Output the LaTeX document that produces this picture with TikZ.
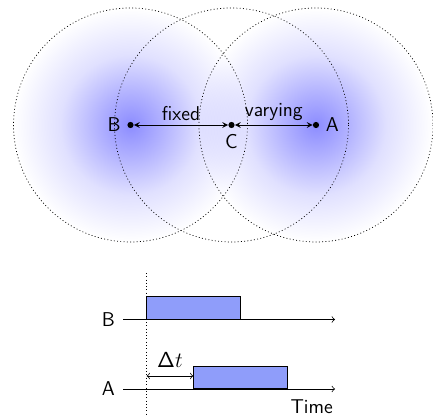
\documentclass[tikz,border=0pt]{standalone}
\usetikzlibrary{arrows}

\definecolor{slotblue}{RGB}{143,157,250}
\pgfdeclareradialshading{glow}{\pgfpoint{0bp}{0bp}}{color(0bp)=(blue!45); color(7bp)=(blue!30); color(15bp)=(blue!12); color(25bp)=(white); color(50bp)=(white)}

\begin{document}
\begin{tikzpicture}[
  x=0.55pt, y=-0.55pt,
  >=stealth,
  every node/.style={font=\sffamily\fontsize{11}{13}\selectfont},
  reach/.style={dash pattern=on 0.5pt off 1.3pt},
  dot/.style={circle, fill, inner sep=1.2pt},
  slot/.style={draw, fill=slotblue, line width=0.6pt},
  axis/.style={->, >=to}]
\useasboundingbox (0,0) rectangle (433,418);

% coverage of the two stations
\shade[shading=glow, blend mode=multiply] (130.5,125) circle (117);
\shade[shading=glow, blend mode=multiply] (316,125) circle (117);
\draw[reach] (130.5,125) circle (117);
\draw[reach] (231.5,125) circle (117);
\draw[reach] (316,125) circle (117);

\node[dot, label=left:B]  (B) at (130.5,125) {};
\node[dot, label=below:C] (C) at (231.5,125) {};
\node[dot, label=right:A] (A) at (316,125) {};
\draw[<->] (B) -- node[above=-1pt] {fixed} (C);
\draw[<->] (C) -- node[above=-1pt] {varying} (A);

% timing
\coordinate (start) at (146.7,273);
\coordinate (end) at (146.7,414);
\draw[reach] (start) -- (end);

\coordinate (Bt0) at (123,319.5);
\coordinate (Bt1) at (335,319.5);
\coordinate (At0) at (123,389);
\coordinate (At1) at (335,389);
\node[left=1pt] (Blabel) at (Bt0) {B};
\node[left=1pt] (Alabel) at (At0) {A};

\draw[slot] (146.7,319.5) rectangle (240.7,296.7);
\draw[slot] (193.3,389) rectangle (287.3,366.7);
\draw[axis] (Bt0) -- (Bt1);
\draw[axis] (At0) -- (At1);

\coordinate (d0) at (146.7,376);
\coordinate (d1) at (193.3,376);
\draw[<->, >=to] (d0) -- node[above=1pt, font=\large] {$\mathsf{\Delta}t$} (d1);
\node (time) at (311.7,406.7) {Time};
\end{tikzpicture}
\end{document}
